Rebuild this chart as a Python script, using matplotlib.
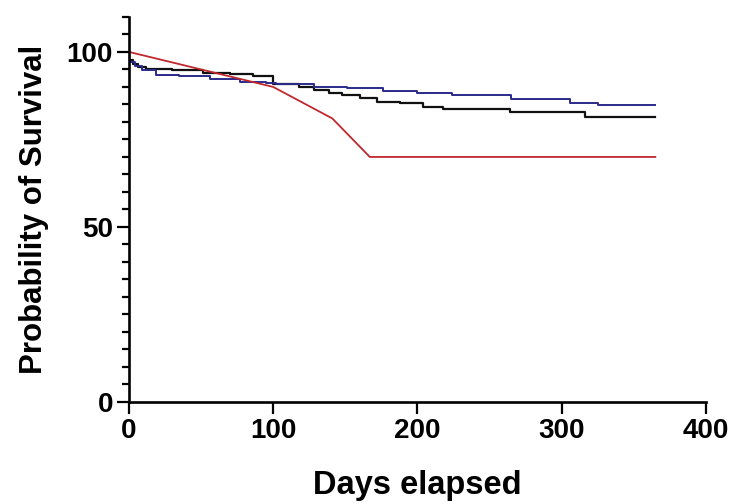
import matplotlib
matplotlib.use("Agg")
import matplotlib.pyplot as plt
from matplotlib.ticker import MultipleLocator

# Data
black_t = [0, 3, 6, 12, 30, 51, 70, 86, 100, 118, 128, 139, 148, 160, 172, 188, 204, 218, 264, 316, 365]
black_s = [97.7, 96.5, 95.8, 95, 94.7, 94.1, 93.6, 93.1, 90.8, 90.1, 89.1, 88.4, 87.7, 86.8, 85.8, 85.3, 84.4, 83.6, 82.7, 81.5, 81.5]

blue_t = [0, 4, 9, 19, 35, 56, 77, 95, 102, 128, 151, 176, 200, 224, 265, 306, 325, 365]
blue_s = [97.2, 96, 94.8, 93.4, 93.1, 92.2, 91.5, 91.1, 90.9, 90.1, 89.6, 88.7, 88.2, 87.7, 86.5, 85.5, 84.8, 84.8]

red_t = [0, 100, 141, 167, 365]
red_s = [100, 90, 81, 70, 70]

x_ticks = [0, 100, 200, 300, 400]
y_ticks = [0, 50, 100]

fam = ['Liberation Sans', 'DejaVu Sans']

fig = plt.figure(figsize=(7.31, 5.04), dpi=100)
ax = fig.add_axes([0.1765, 0.2024, 0.789, 0.764])

ax.step(black_t, black_s, where='post', color='#111111', lw=1.6)
ax.step(blue_t, blue_s, where='post', color='#2a2a8a', lw=1.4)
ax.plot(red_t, red_s, color='#c0282d', lw=1.3)

ax.set_xlim(0, 400)
ax.set_ylim(0, 110)
ax.set_xticks(x_ticks)
ax.set_yticks(y_ticks)
ax.yaxis.set_minor_locator(MultipleLocator(5))

for s in ['top', 'right']:
    ax.spines[s].set_visible(False)
for s in ['left', 'bottom']:
    ax.spines[s].set_linewidth(1.9)

ax.tick_params(axis='both', which='major', length=8.5, width=1.6, direction='out', pad=3)
ax.tick_params(axis='y', which='minor', length=5, width=1.6, direction='out')
ax.tick_params(axis='x', which='minor', length=0)

for lab in ax.get_xticklabels() + ax.get_yticklabels():
    lab.set_family(fam)
    lab.set_fontweight('bold')
    lab.set_fontsize(20)

ax.set_xlabel('Days elapsed', family=fam, fontweight='bold', fontsize=23.5, labelpad=19)
ax.set_ylabel('Probability of Survival', family=fam, fontweight='bold', fontsize=22.5, labelpad=13)

fig.savefig('out.png', dpi=100)
